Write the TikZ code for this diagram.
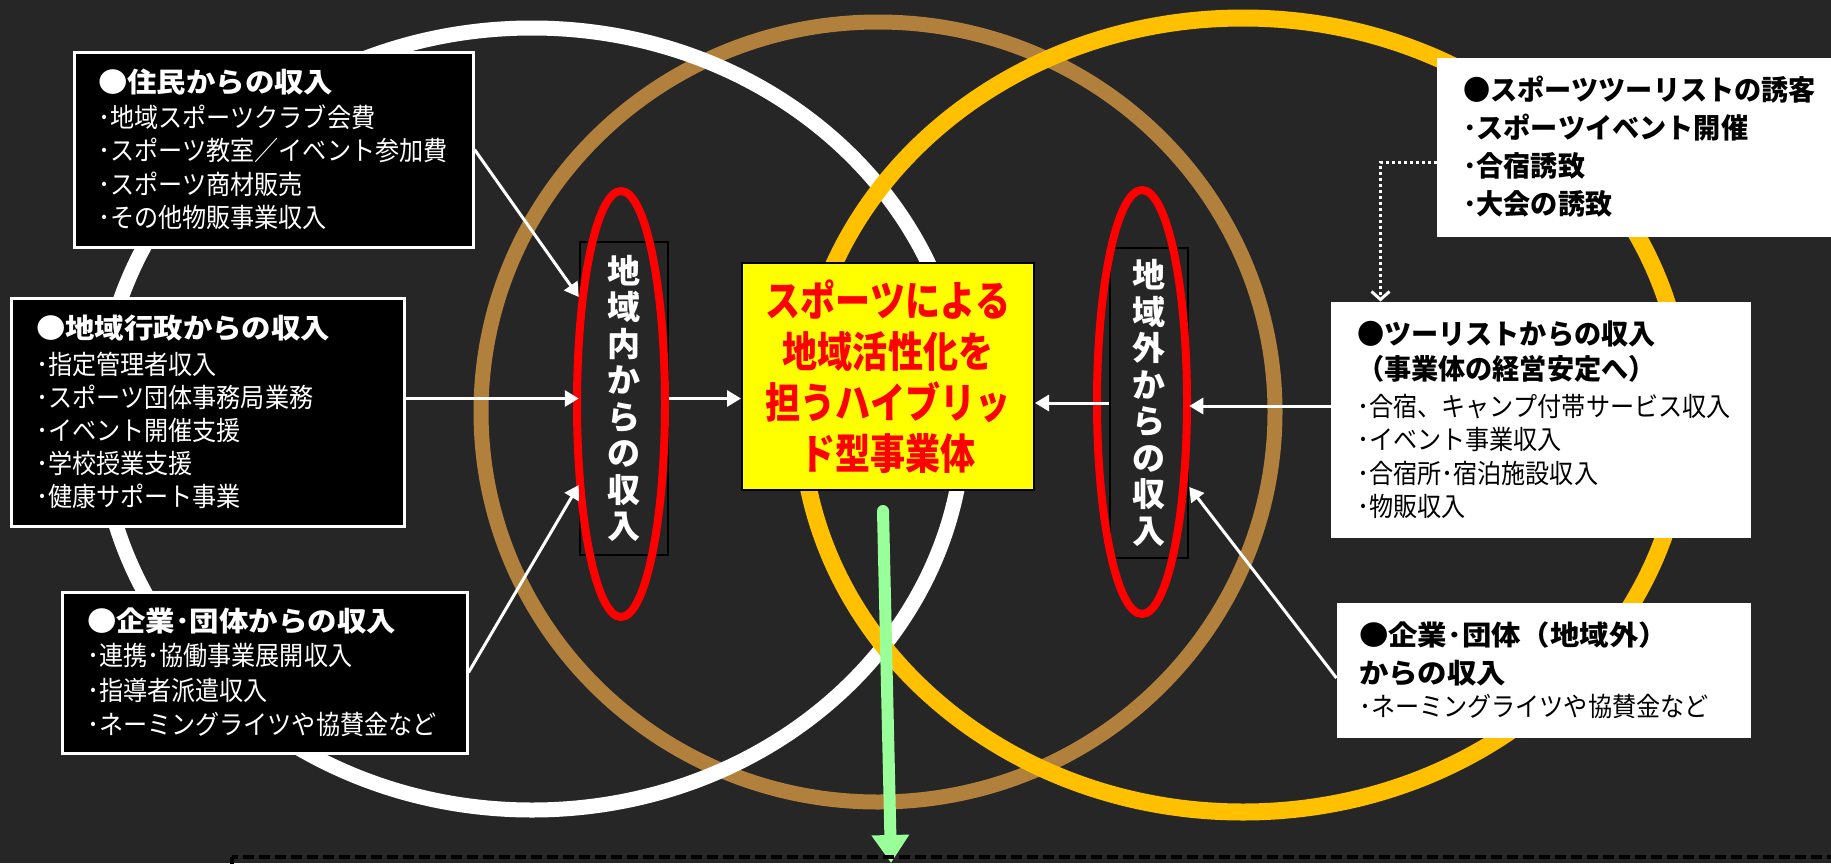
\documentclass[tikz,border=0pt]{standalone}
\usepackage{fontspec}
\usetikzlibrary{arrows.meta}
\setmainfont{Noto Sans CJK JP}
\newfontfamily\jpI[FakeStretch=0.91,Kerning=Off]{Noto Sans CJK JP}
\newfontfamily\jpH[FakeStretch=1.07,Kerning=Off]{Noto Sans CJK JP}
\newfontfamily\jpR[FakeStretch=0.97,Kerning=Off]{Noto Sans CJK JP}
\newfontfamily\jpC[FakeStretch=0.835,Kerning=Off]{Noto Sans CJK JP}
\newfontfamily\jpV[Kerning=Off]{Noto Sans CJK JP}
\definecolor{bgc}{RGB}{38,38,38}
\definecolor{ringbrown}{RGB}{177,128,60}
\definecolor{ringgold}{RGB}{255,192,0}
\definecolor{hlred}{RGB}{255,0,0}
\definecolor{hlyellow}{RGB}{255,255,0}
\definecolor{arrowgreen}{RGB}{153,255,153}
\newcommand{\hd}[1]{{\jpH\bfseries\fontsize{27.5}{33.5}\selectfont #1}}
\newcommand{\hr}[1]{{\jpR\bfseries\fontsize{28}{33.5}\selectfont #1}}
\tikzset{
  darkbox/.style={draw=white, line width=3pt, fill=black, text=white, align=left, inner ysep=0pt},
  lightbox/.style={draw=white, line width=1pt, fill=white, text=black, align=left, inner ysep=0pt},
  vbox/.style={draw=black, line width=2.5pt, fill=bgc, text=white, align=center, inner sep=0pt,
    text width=40pt, font=\jpV\bfseries\fontsize{33}{36.5}\selectfont},
  conn/.style={white, line width=3pt, -{Triangle[length=14pt,width=16pt]}},
  redring/.style={draw=hlred, line width=8pt}
}
\begin{document}
\begin{tikzpicture}[x=1pt, y=-1pt]
\useasboundingbox (0,0) rectangle (1831,863);
\clip (0,0) rectangle (1831,863);
\fill[bgc] (0,0) rectangle (1831,863);
% rings
\draw[ringbrown, line width=15pt] (878,412) ellipse [x radius=397pt, y radius=390pt];
\draw[white, line width=15pt] (532,419) ellipse [x radius=432pt, y radius=391pt];
\draw[ringgold, line width=17pt] (1243,415) ellipse [x radius=442pt, y radius=397pt];

% boxes
\node[darkbox, text width=351pt, inner xsep=24pt, minimum height=195pt,
  font=\jpI\fontsize{26.5}{33.5}\selectfont] (res) at (273.5,149.5)
  {\hd{●住民からの収入}\\[1.5pt]･地域スポーツクラブ会費\\･スポーツ教室／イベント参加費\\･スポーツ商材販売\\･その他物販事業収入};
\node[darkbox, text width=343pt, inner xsep=25pt, minimum height=228pt,
  font=\jpI\fontsize{26.5}{33}\selectfont] (gov) at (207.5,412)
  {\hd{●地域行政からの収入}\\[3.5pt]･指定管理者収入\\･スポーツ団体事務局業務\\･イベント開催支援\\･学校授業支援\\･健康サポート事業};
\node[darkbox, text width=355pt, inner xsep=25pt, minimum height=161pt,
  font=\jpI\fontsize{26.5}{34.5}\selectfont] (corp) at (264.5,672.5)
  {\hd{●企業･団体からの収入}\\･連携･協働事業展開収入\\･指導者派遣収入\\･ネーミングライツや協賛金など};

\node[lightbox, text width=380pt, inner xsep=26pt, minimum height=178pt,
  font=\jpR\bfseries\fontsize{28}{38}\selectfont] (tour) at (1653,147)
  {●スポーツツーリストの誘客\\･スポーツイベント開催\\･合宿誘致\\･大会の誘致};
\node[lightbox, text width=367pt, inner xsep=26pt, minimum height=235pt,
  font=\jpI\fontsize{26.5}{33.5}\selectfont] (tinc) at (1540.5,419.5)
  {\hr{●ツーリストからの収入}\\[1.5pt]\hr{（事業体の経営安定へ）}\\[3.5pt]･合宿、キャンプ付帯サービス収入\\･イベント事業収入\\･合宿所･宿泊施設収入\\･物販収入};
\node[lightbox, text width=369pt, inner xsep=22pt, minimum height=134pt,
  font=\jpI\fontsize{26.5}{33.5}\selectfont] (ocorp) at (1543.5,670)
  {\hd{●企業･団体（地域外）}\\[4.5pt]\hd{からの収入}\\[-0.5pt]･ネーミングライツや協賛金など};

% vertical boxes
\node[vbox, minimum width=88pt, minimum height=313pt] (vin) at (624,398.5)
  {地\\域\\内\\か\\ら\\の\\収\\入};
\node[vbox, minimum width=78pt, minimum height=310pt] (vout) at (1149,403)
  {地\\域\\外\\か\\ら\\の\\収\\入};
\draw[redring] (621,404) ellipse [x radius=44pt, y radius=213pt];
\draw[redring] (1142,402) ellipse [x radius=45pt, y radius=212pt];

% center box
\node[draw=black, line width=2pt, fill=hlyellow, text=hlred, align=center,
  text width=292pt, inner xsep=0pt, minimum height=227pt,
  font=\jpC\bfseries\fontsize{42}{51}\selectfont] (hub) at (888,376.5)
  {スポーツによる\\地域活性化を\\担うハイブリッ\\ド型事業体};

% green arrow
\coordinate (g1) at ([xshift=-5pt,yshift=-20pt]hub.south);
\coordinate (g2) at (891,863);
\draw[arrowgreen, line width=12pt, line cap=round, -{Triangle[length=28pt,width=36pt]}] (g1) -- (g2);

% connectors
\draw[conn] (res.east) -- ([yshift=101.5pt]vin.west);
\draw[conn] (gov.east |- vin.west) -- (vin.west);
\draw[conn] (corp.east) -- ([yshift=-86.5pt]vin.west);
\draw[conn] (vin.east) -- (vin.east -| hub.west);
\draw[conn] (vout.west) -- (vout.west -| hub.east);
\draw[conn] ([yshift=13.5pt]tinc.west) -- ([yshift=13.5pt]tinc.west -| vout.east);
\draw[conn] ([yshift=-8pt]ocorp.west) -- ([yshift=-84pt]vout.east);
\draw[white, line width=3pt, dash pattern=on 3pt off 3pt,
  -{Straight Barb[length=8pt,width=18pt,line width=3pt]}]
  ([yshift=-15pt]tour.west) -| ([xshift=-160pt]tinc.north);

% dashed frame at the bottom
\draw[black, line width=4pt, dash pattern=on 11pt off 5pt] (232,857) rectangle (1900,1000);
\end{tikzpicture}
\end{document}
